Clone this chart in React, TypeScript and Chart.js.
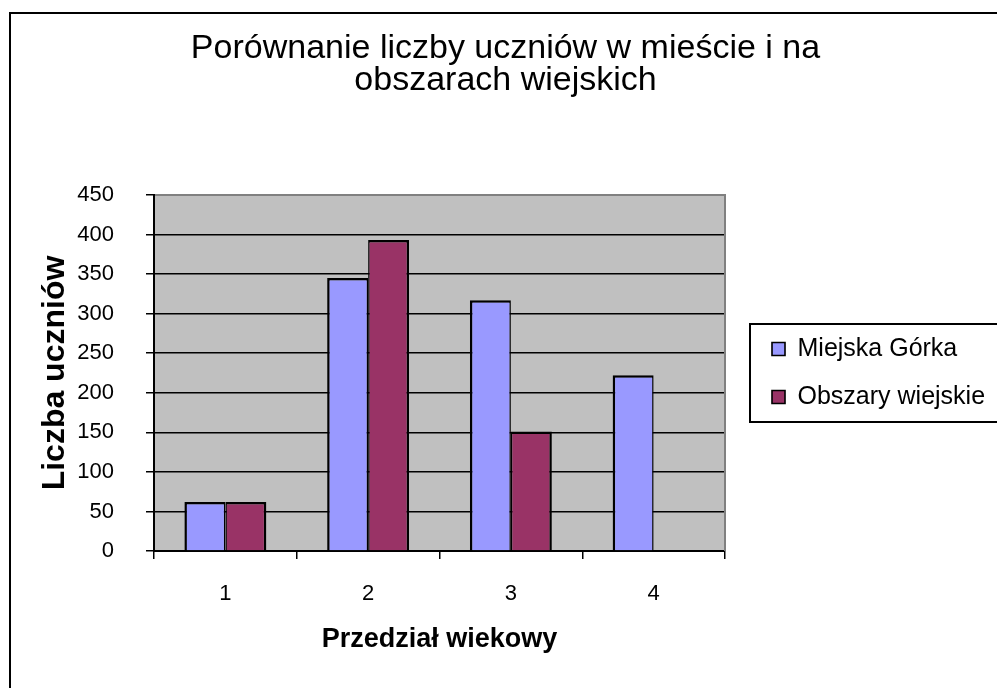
import React, { useEffect, useRef } from 'react';
import { Chart, registerables } from 'chart.js';

Chart.register(...registerables);

const categories = ['1', '2', '3', '4'];
const seriesNames = ['Miejska Górka', 'Obszary wiejskie'];
const miejskaGorka = [62, 345, 317, 222];
const obszaryWiejskie = [62, 393, 151, 0];
const yMin = 0;
const yMax = 450;
const yStep = 50;
const titleLines = ['Porównanie liczby uczniów w mieście i na', 'obszarach wiejskich'];
const xTitle = 'Przedział wiekowy';
const yTitle = 'Liczba uczniów';

const W = 997;
const H = 688;

const decorPlugin = {
  id: 'decor',
  beforeDraw(chart: any) {
    const { ctx, width, height, chartArea: a } = chart;
    ctx.save();
    ctx.fillStyle = '#ffffff';
    ctx.fillRect(0, 0, width, height);
    ctx.strokeStyle = '#000000';
    ctx.lineWidth = 2;
    ctx.strokeRect(10, 13, width + 20, height + 20);
    ctx.fillStyle = '#C0C0C0';
    ctx.fillRect(a.left, a.top, a.right - a.left, a.bottom - a.top);
    ctx.restore();
  },
  afterDatasetsDraw(chart: any) {
    const { ctx, chartArea: a } = chart;
    ctx.save();
    ctx.strokeStyle = '#808080';
    ctx.lineWidth = 2;
    ctx.beginPath();
    ctx.moveTo(a.left + 1, a.top);
    ctx.lineTo(a.right, a.top);
    ctx.lineTo(a.right, a.bottom);
    ctx.stroke();
    ctx.restore();
  },
  afterDraw(chart: any) {
    const lg = chart.legend;
    if (!lg || !lg.legendHitBoxes || !lg.legendHitBoxes.length) return;
    const hb = lg.legendHitBoxes;
    const first = hb[0];
    const last = hb[hb.length - 1];
    const { ctx, width } = chart;
    const left = first.left - 22;
    const top = first.top - 12.5;
    const bottom = last.top + last.height + 12.5;
    ctx.save();
    ctx.strokeStyle = '#000000';
    ctx.lineWidth = 2;
    ctx.strokeRect(left, top, width - left + 20, bottom - top);
    ctx.restore();
  },
};

export default function App() {
  const ref = useRef<HTMLCanvasElement | null>(null);

  useEffect(() => {
    document.body.style.margin = '0';
    const canvas = ref.current;
    if (!canvas) return;
    Chart.defaults.font.family = '"Liberation Sans", Arial, sans-serif';
    Chart.defaults.color = '#000000';

    const chart = new Chart(canvas, {
      type: 'bar',
      data: {
        labels: categories,
        datasets: [
          {
            label: seriesNames[0],
            data: miejskaGorka,
            backgroundColor: '#9999FF',
            borderColor: '#000000',
            borderWidth: { left: 2.5, top: 2.5, right: 1.5, bottom: 0 },
            borderSkipped: false,
            categoryPercentage: 0.574,
            barPercentage: 1.0,
          },
          {
            label: seriesNames[1],
            data: obszaryWiejskie,
            backgroundColor: '#993366',
            borderColor: '#000000',
            borderWidth: { left: 1.5, top: 2.5, right: 2.5, bottom: 0 },
            borderSkipped: false,
            categoryPercentage: 0.574,
            barPercentage: 1.0,
          },
        ],
      },
      plugins: [decorPlugin],
      options: {
        responsive: false,
        animation: false,
        devicePixelRatio: 1,
        layout: { padding: { left: 16, top: 0, right: 2, bottom: 0 } },
        plugins: {
          title: {
            display: true,
            text: titleLines,
            color: '#000000',
            font: { size: 34, weight: 'normal', lineHeight: 32 / 34 },
            padding: { top: 33, bottom: 98 },
          },
          legend: {
            position: 'right',
            align: 'center',
            fullSize: false,
            maxWidth: 246,
            labels: {
              color: '#000000',
              font: { size: 25 },
              boxWidth: 13,
              boxHeight: 13,
              padding: 23,
            },
          },
          tooltip: { enabled: false },
        },
        scales: {
          x: {
            offset: true,
            grid: {
              offset: true,
              drawOnChartArea: false,
              drawTicks: true,
              tickLength: 8,
              tickColor: '#000000',
              lineWidth: 1.5,
            },
            border: { color: '#000000', width: 2 },
            ticks: { color: '#000000', font: { size: 22 }, padding: 22, maxRotation: 0 },
            title: {
              display: true,
              text: xTitle,
              color: '#000000',
              font: { size: 27, weight: 'bold' },
              padding: { top: 0, bottom: 32 },
            },
            afterFit: (s: any) => {
              s.height = 137;
            },
          },
          y: {
            min: yMin,
            max: yMax,
            ticks: { stepSize: yStep, color: '#000000', font: { size: 22 }, padding: 32 },
            grid: {
              color: (c: any) => (c.tick && c.tick.value === yMax ? '#808080' : '#000000'),
              lineWidth: 1.5,
              tickLength: 8,
              tickColor: '#000000',
            },
            border: { color: '#000000', width: 2 },
            title: {
              display: true,
              text: yTitle,
              color: '#000000',
              font: { size: 32, weight: 'bold' },
              padding: { top: 20, bottom: 0 },
            },
            afterFit: (s: any) => {
              s.width = 138;
            },
          },
          y2: {
            position: 'right',
            display: true,
            grid: { display: false },
            border: { display: false },
            ticks: { display: false },
            afterFit: (s: any) => {
              s.width = 24;
            },
          },
        },
      } as any,
    });
    return () => chart.destroy();
  }, []);

  return (
    <div style={{ width: W, height: H, position: 'relative' }}>
      <canvas ref={ref} width={W} height={H} style={{ display: 'block', position: 'absolute', left: 0, top: 0 }} />
    </div>
  );
}
